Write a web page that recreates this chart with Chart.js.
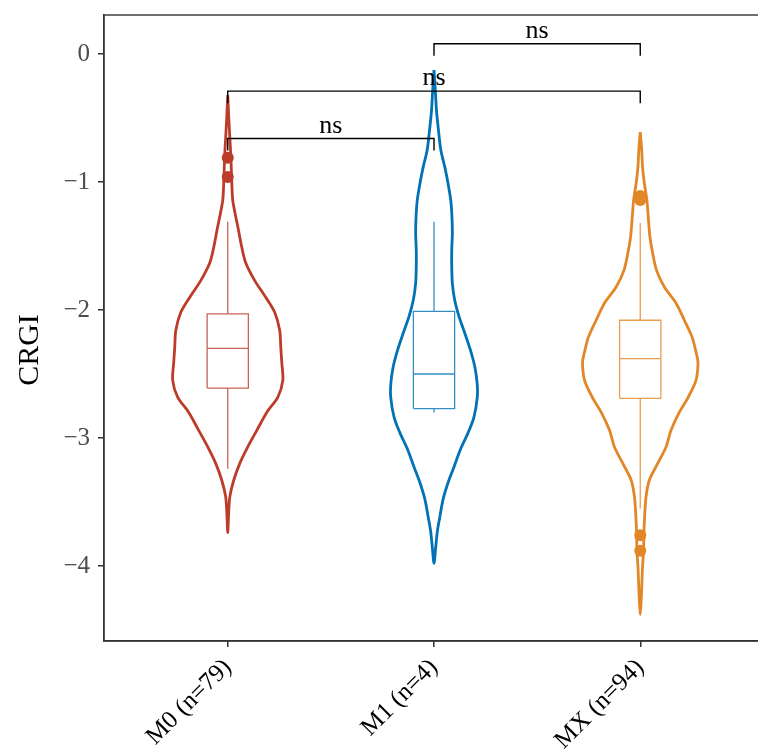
<!DOCTYPE html>
<html>
<head>
<meta charset="utf-8">
<script src="https://cdn.jsdelivr.net/npm/chart.js@4.4.1/dist/chart.umd.min.js"></script>
<style>
  html, body { margin: 0; padding: 0; background: #fff; overflow: hidden; }
  canvas { display: block; }
</style>
</head>
<body>
<canvas id="violinChart" width="770" height="752"></canvas>
<script>
// groups and axis
const categories = ['M0 (n=79)', 'M1 (n=4)', 'MX (n=94)'];
const yTicks = [0, -1, -2, -3, -4];

// violin outlines: value along y, half width of the density (category units)
const m0Values = [-0.32, -0.50, -0.65, -0.80, -0.98, -1.14, -1.24, -1.375, -1.51, -1.63, -1.77, -1.90, -2.02, -2.16, -2.29, -2.41, -2.55, -2.68, -2.80, -2.94, -3.07, -3.20, -3.33, -3.46, -3.60, -3.74];
const m0Density = [0, .005, .010, .015, .019, .024, .035, .052, .068, .087, .131, .184, .228, .252, .257, .262, .267, .243, .189, .141, .097, .058, .029, .010, .004, 0];
const m1Values = [-0.125, -0.30, -0.44, -0.60, -0.75, -0.88, -1.01, -1.14, -1.27, -1.40, -1.53, -1.66, -1.79, -1.92, -2.05, -2.18, -2.31, -2.445, -2.57, -2.68, -2.84, -2.96, -3.09, -3.23, -3.35, -3.48, -3.62, -3.72, -3.84, -3.98];
const m1Density = [0, .007, .012, .022, .033, .052, .068, .081, .087, .089, .086, .086, .089, .100, .121, .149, .176, .198, .209, .210, .193, .165, .128, .096, .068, .044, .028, .017, .009, 0];
const mxValues = [-0.61, -0.75, -0.88, -1.00, -1.14, -1.30, -1.43, -1.555, -1.69, -1.82, -1.945, -2.08, -2.21, -2.34, -2.41, -2.55, -2.68, -2.80, -2.94, -3.07, -3.20, -3.33, -3.46, -3.62, -3.74, -3.88, -4.01, -4.13, -4.25, -4.38];
const mxDensity = [0, .007, .011, .019, .032, .040, .047, .060, .079, .117, .173, .214, .251, .272, .280, .270, .233, .189, .149, .125, .084, .044, .028, .021, .018, .016, .011, .008, .005, 0];

// boxplot stats per group
const whiskerHigh = [-1.31, -1.31, -1.32];
const boxQ3 = [-2.03, -2.01, -2.08];
const boxMedian = [-2.30, -2.50, -2.38];
const boxQ1 = [-2.61, -2.77, -2.69];
const whiskerLow = [-3.24, -2.80, -3.55];
const outliers = [[-0.81, -0.96], [], [-1.11, -1.14, -3.76, -3.88]];

// pairwise comparisons
const compareFrom = [1, 1, 2];
const compareTo = [2, 3, 3];
const compareY = [-0.66, -0.29, 0.08];
const compareLabel = ['ns', 'ns', 'ns'];

const colors = ['#BC3C29', '#0072B5', '#E18727'];
const boxColors = ['rgba(188,60,41,0.8)', 'rgba(0,114,181,0.8)', 'rgba(225,135,39,0.8)'];
const serif = "'Liberation Serif', 'DejaVu Serif', serif";

const violins = [[m0Values, m0Density], [m1Values, m1Density], [mxValues, mxDensity]];
const datasets = [];

// brackets first so they sit on top
for (let i = 0; i < compareFrom.length; i++) {
  const tip = 0.094;
  datasets.push({
    data: [
      { x: compareFrom[i], y: compareY[i] - tip },
      { x: compareFrom[i], y: compareY[i] },
      { x: compareTo[i], y: compareY[i] },
      { x: compareTo[i], y: compareY[i] - tip }
    ],
    showLine: true, borderColor: '#000', borderWidth: 1.4,
    pointRadius: 0, tension: 0, fill: false
  });
}

categories.forEach((c, i) => {
  const cx = i + 1;
  // outliers
  datasets.push({
    data: outliers[i].map(v => ({ x: cx, y: v })),
    showLine: false, pointRadius: 6, backgroundColor: colors[i],
    borderWidth: 0
  });
  // box + whiskers
  const hw = 0.1;
  datasets.push({
    data: [
      { x: cx - hw, y: boxQ1[i] }, { x: cx + hw, y: boxQ1[i] }, { x: cx + hw, y: boxQ3[i] },
      { x: cx - hw, y: boxQ3[i] }, { x: cx - hw, y: boxQ1[i] }, { x: cx, y: null },
      { x: cx - hw, y: boxMedian[i] }, { x: cx + hw, y: boxMedian[i] }, { x: cx, y: null },
      { x: cx, y: boxQ3[i] }, { x: cx, y: whiskerHigh[i] }, { x: cx, y: null },
      { x: cx, y: boxQ1[i] }, { x: cx, y: whiskerLow[i] }
    ],
    showLine: true, spanGaps: false, borderColor: boxColors[i], borderWidth: 1.3,
    pointRadius: 0, tension: 0, fill: false
  });
  // violin outline (bottom tip shared, not repeated)
  const [vals, dens] = violins[i];
  const right = vals.map((v, k) => ({ x: cx + dens[k], y: v }));
  const left = vals.map((v, k) => ({ x: cx - dens[k], y: v })).reverse().slice(1);
  datasets.push({
    data: right.concat(left),
    showLine: true, borderColor: colors[i], borderWidth: 2.8,
    pointRadius: 0, tension: 0.3, fill: false
  });
});

const extras = {
  id: 'extras',
  afterDatasetsDraw(chart) {
    const { ctx, chartArea, scales } = chart;
    ctx.save();
    // panel border
    ctx.strokeStyle = '#333';
    ctx.lineWidth = 1.4;
    ctx.strokeRect(chartArea.left, chartArea.top, chartArea.right - chartArea.left, chartArea.bottom - chartArea.top);
    // comparison labels
    ctx.fillStyle = '#000';
    ctx.font = '26px ' + serif;
    ctx.textAlign = 'center';
    ctx.textBaseline = 'alphabetic';
    for (let i = 0; i < compareFrom.length; i++) {
      const x = scales.x.getPixelForValue((compareFrom[i] + compareTo[i]) / 2);
      const y = scales.y.getPixelForValue(compareY[i]);
      ctx.fillText(compareLabel[i], x, y - 6);
    }
    // y axis title
    ctx.translate(30, 350);
    ctx.rotate(-Math.PI / 2);
    ctx.font = '30px ' + serif;
    ctx.textBaseline = 'middle';
    ctx.fillText('CRGI', 0, 0);
    ctx.restore();
  }
};

new Chart(document.getElementById('violinChart').getContext('2d'), {
  type: 'scatter',
  data: { datasets },
  options: {
    responsive: false,
    animation: false,
    events: [],
    layout: { padding: { top: 15, right: 6, left: 0, bottom: 0 } },
    plugins: { legend: { display: false }, tooltip: { enabled: false } },
    scales: {
      x: {
        type: 'linear', min: 0.4, max: 3.6,
        afterBuildTicks: s => { s.ticks = [1, 2, 3].map(v => ({ value: v })); },
        afterFit: s => { s.height = 111; },
        ticks: {
          callback: v => categories[v - 1],
          font: { family: serif, size: 25 }, color: '#000',
          minRotation: 45, maxRotation: 45, padding: 6, autoSkip: false
        },
        grid: { drawOnChartArea: false, drawTicks: true, tickLength: 6, color: '#333', lineWidth: 1.5 },
        border: { color: '#333', width: 1.4 }
      },
      y: {
        type: 'linear', min: -4.586, max: 0.305,
        afterBuildTicks: s => { s.ticks = yTicks.map(v => ({ value: v })); },
        afterFit: s => { s.width = 104; s.paddingTop = 0; s.paddingBottom = 0; },
        ticks: {
          callback: v => (v < 0 ? '\u2212' + Math.abs(v) : String(v)),
          font: { family: serif, size: 25 }, color: '#4D4D4D', padding: 8
        },
        grid: { drawOnChartArea: false, drawTicks: true, tickLength: 6, color: '#333', lineWidth: 1.5 },
        border: { color: '#333', width: 1.4 }
      }
    }
  },
  plugins: [extras]
});
</script>
</body>
</html>
